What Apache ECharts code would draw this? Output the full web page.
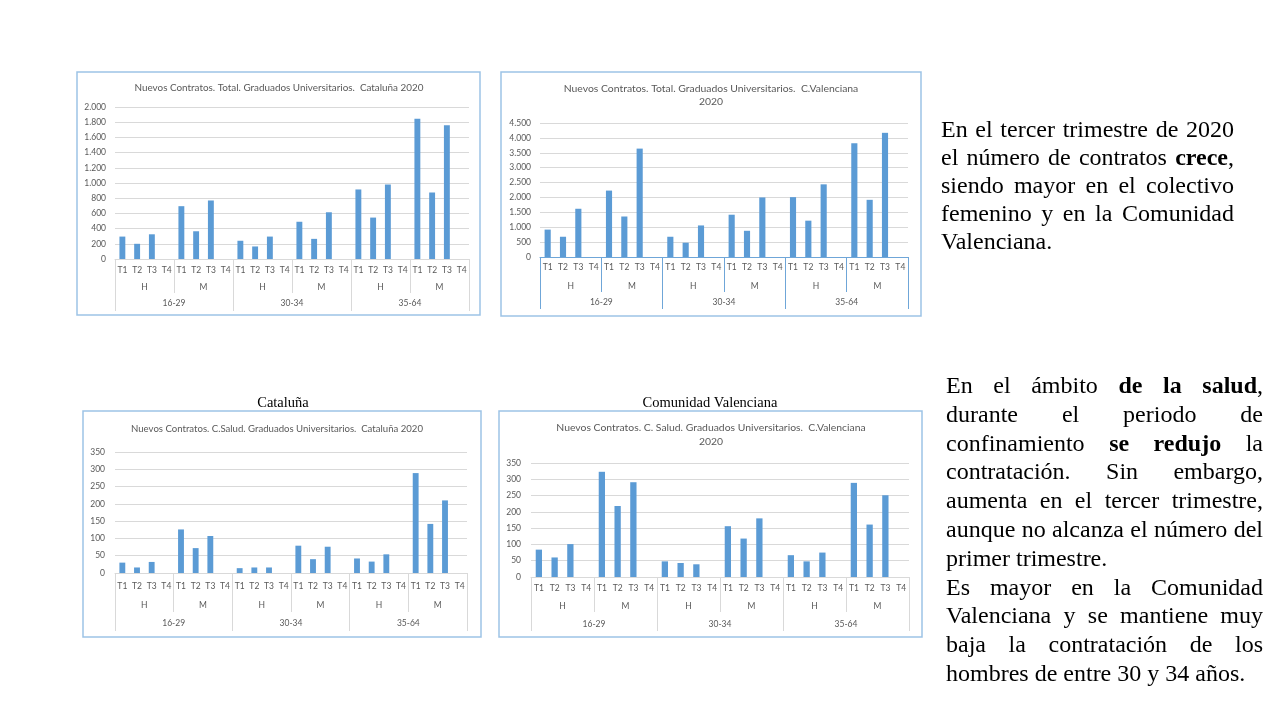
<!DOCTYPE html>
<html><head><meta charset="utf-8">
<script src="https://cdn.jsdelivr.net/npm/echarts@6/dist/echarts.min.js"></script>
<style>
html,body{margin:0;padding:0;background:#fff;}
#wrap{position:relative;width:1280px;height:720px;overflow:hidden;background:#fff;}
#chart{position:absolute;left:0;top:0;width:1280px;height:720px;}
.txt{position:absolute;font-family:"Liberation Serif","Times New Roman",serif;font-size:24px;color:#000;}
.txt div{text-align:left;}
.txt div.j{text-align:justify;text-align-last:justify;}
</style>
</head><body>
<div id="wrap">
<div id="chart"></div>
<div class="txt" id="t1" style="left:941px;top:115px;width:293px;line-height:28px;">
<div class="j">En el tercer trimestre de 2020</div>
<div class="j">el número de contratos <b>crece</b>,</div>
<div class="j">siendo mayor en el colectivo</div>
<div class="j">femenino y en la Comunidad</div>
<div>Valenciana.</div>
</div>
<div class="txt" id="t2" style="left:946px;top:371px;width:317px;line-height:28.8px;">
<div class="j">En el ámbito <b>de la salud</b>,</div>
<div class="j">durante el periodo de</div>
<div class="j">confinamiento <b>se redujo</b> la</div>
<div class="j">contratación. Sin embargo,</div>
<div class="j">aumenta en el tercer trimestre,</div>
<div class="j">aunque no alcanza el número del</div>
<div>primer trimestre.</div>
<div class="j">Es mayor en la Comunidad</div>
<div class="j">Valenciana y se mantiene muy</div>
<div class="j">baja la contratación de los</div>
<div>hombres de entre 30 y 34 años.</div>
</div>
</div>
<script>
// ---- data ----
const quarters = ['T1', 'T2', 'T3', 'T4'];
const sexes = ['H', 'M'];
const ageGroups = ['16-29', '30-34', '35-64'];

const catTotal = [295, 200, 325, null, 695, 365, 770, null, 240, 165, 295, null, 490, 265, 615, null, 915, 545, 980, null, 1845, 875, 1760, null];
const cvTotal = [920, 680, 1620, null, 2230, 1360, 3640, null, 680, 480, 1060, null, 1420, 880, 2000, null, 2010, 1220, 2440, null, 3820, 1920, 4170, null];
const catSalud = [30, 16, 32, null, 126, 72, 107, null, 14, 16, 16, null, 79, 40, 76, null, 42, 33, 54, null, 289, 142, 210, null];
const cvSalud = [84, 60, 101, null, 323, 218, 291, null, 48, 43, 39, null, 156, 118, 180, null, 67, 48, 75, null, 289, 161, 251, null];

const yMax = [2000, 4500, 350, 350];
const yStep = [200, 500, 50, 50];

const chartTitles = [
  'Nuevos Contratos. Total. Graduados Universitarios.  Cataluña 2020',
  'Nuevos Contratos. Total. Graduados Universitarios.  C.Valenciana\n2020',
  'Nuevos Contratos. C.Salud. Graduados Universitarios.  Cataluña 2020',
  'Nuevos Contratos. C. Salud. Graduados Universitarios.  C.Valenciana\n2020'
];
const captions = ['Cataluña', 'Comunidad Valenciana'];

// ---- derived categories ----
const lvl1 = [], lvl2 = [], lvl3 = [];
ageGroups.forEach(a => {
  lvl3.push(a);
  sexes.forEach(s => {
    lvl2.push(s);
    quarters.forEach(q => lvl1.push(q));
  });
});

// ---- layout ----
const layouts = [
  {grid: {left: 115, top: 107, width: 354, height: 152}, box: [77, 72, 403, 243], axisColor: '#d9d9d9', m: [7, 24, 40], t: [34, 52], ym: 9, title: {x: 279, y: 82.5, lh: 11, fs: 9.9}},
  {grid: {left: 540, top: 123, width: 368, height: 134}, box: [501, 72, 420, 244], axisColor: '#6fa6d8', m: [6, 25, 41], t: [35, 52], ym: 9, title: {x: 711, y: 82.5, lh: 13, fs: 10.4}},
  {grid: {left: 115, top: 452, width: 352, height: 121}, box: [83, 411, 398, 226], axisColor: '#d9d9d9', m: [9, 28, 46], t: [39, 58], ym: 10, title: {x: 277, y: 423, lh: 12, fs: 9.6}},
  {grid: {left: 531, top: 463, width: 378, height: 114}, box: [499, 411, 423, 226], axisColor: '#d9d9d9', m: [7, 25, 43], t: [35, 54], ym: 10, title: {x: 711, y: 421, lh: 14, fs: 10.4}}
];
const datasets = [catTotal, cvTotal, catSalud, cvSalud];

const fmt = v => String(v).replace(/\B(?=(\d{3})+(?!\d))/g, '.');
const lblStyle = {color: '#595959', fontSize: 8.5, fontFamily: 'Lato'};

const grids = [], xAxes = [], yAxes = [], series = [], titles = [], graphics = [];
layouts.forEach((L, i) => {
  grids.push(Object.assign({outerBoundsMode: 'none', containLabel: false}, L.grid));
  xAxes.push({
    gridIndex: i, type: 'category', data: lvl1, position: 'bottom',
    axisLine: {show: true, onZero: false, lineStyle: {color: L.axisColor, width: 1}},
    axisTick: {show: false},
    axisLabel: Object.assign({interval: 0, margin: L.m[0]}, lblStyle),
    splitLine: {show: false}
  });
  xAxes.push({
    gridIndex: i, type: 'category', data: lvl2, position: 'bottom',
    axisLine: {show: false, onZero: false},
    axisTick: {show: true, interval: 0, length: L.t[0], lineStyle: {color: L.axisColor, width: 1}},
    axisLabel: Object.assign({interval: 0, margin: L.m[1]}, lblStyle),
    splitLine: {show: false}
  });
  xAxes.push({
    gridIndex: i, type: 'category', data: lvl3, position: 'bottom',
    axisLine: {show: false, onZero: false},
    axisTick: {show: true, interval: 0, length: L.t[1], lineStyle: {color: L.axisColor, width: 1}},
    axisLabel: Object.assign({interval: 0, margin: L.m[2]}, lblStyle),
    splitLine: {show: false}
  });
  yAxes.push({
    gridIndex: i, type: 'value', min: 0, max: yMax[i], interval: yStep[i],
    axisLine: {show: false}, axisTick: {show: false},
    splitLine: {show: true, lineStyle: {color: '#d9d9d9', width: 1}},
    axisLabel: Object.assign({margin: L.ym, formatter: fmt}, lblStyle)
  });
  series.push({
    type: 'bar', xAxisIndex: i * 3, yAxisIndex: i, data: datasets[i],
    barWidth: '40%', itemStyle: {color: '#5b9bd5'}, silent: true
  });
  titles.push({
    text: chartTitles[i], left: L.title.x, top: L.title.y, textAlign: 'center', padding: 0,
    textStyle: {fontSize: L.title.fs, fontWeight: 'normal', color: '#595959', fontFamily: 'Lato', lineHeight: L.title.lh}
  });
  graphics.push({
    type: 'rect', silent: true, z: 0,
    shape: {x: L.box[0], y: L.box[1], width: L.box[2], height: L.box[3]},
    style: {fill: 'none', stroke: '#9dc3e6', lineWidth: 1.5}
  });
});
titles.push({text: captions[0], left: 283, top: 395, textAlign: 'center', padding: 0,
  textStyle: {fontSize: 14.5, fontWeight: 'normal', color: '#000', fontFamily: 'Liberation Serif', lineHeight: 16}});
titles.push({text: captions[1], left: 710, top: 395, textAlign: 'center', padding: 0,
  textStyle: {fontSize: 14.5, fontWeight: 'normal', color: '#000', fontFamily: 'Liberation Serif', lineHeight: 16}});

const chart = echarts.init(document.getElementById('chart'), null, {renderer: 'canvas'});
chart.setOption({
  backgroundColor: '#fff',
  animation: false,
  title: titles,
  grid: grids,
  xAxis: xAxes,
  yAxis: yAxes,
  series: series,
  graphic: graphics
});
</script>
</body></html>
